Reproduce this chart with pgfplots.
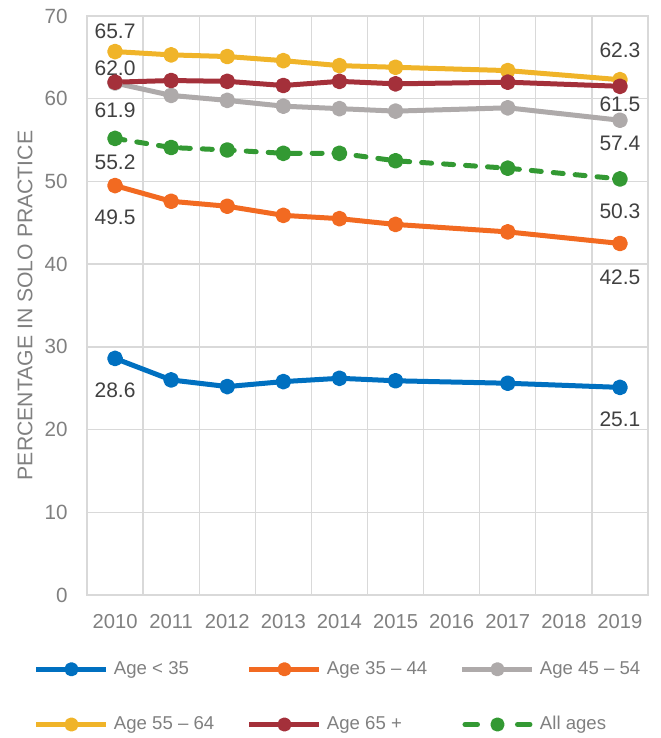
\documentclass[border=0pt]{standalone}
\usepackage{pgfplots}
\pgfplotsset{compat=1.18}
\usepackage{fontspec}
\setmainfont{Liberation Sans}
\definecolor{cBlue}{HTML}{0070C0}
\definecolor{cOrange}{HTML}{F26A21}
\definecolor{cGray}{HTML}{AEAAAA}
\definecolor{cYellow}{HTML}{F0B429}
\definecolor{cRed}{HTML}{A4303A}
\definecolor{cGreen}{HTML}{339933}
\definecolor{gridc}{HTML}{D9D9D9}
\definecolor{tickc}{HTML}{808080}
\definecolor{dlc}{HTML}{404040}
\tikzset{dl/.style={font=\fontsize{10.5}{12}\selectfont, text=dlc, anchor=center, inner sep=0pt}}
\pgfplotsset{dashlegend/.style={legend image code/.code={\draw[##1,solid,line cap=round] (1.25pt,0pt)--(7.5pt,0pt); \draw[##1,solid,line cap=round] (27.5pt,0pt)--(33.75pt,0pt); \draw[##1,solid,mark size=2.3pt] plot coordinates {(17.5pt,0pt)};}}}
\begin{document}
\begin{tikzpicture}
\begin{axis}[
  scale only axis, width=280.5pt, height=289.5pt,
  xmin=2009.5, xmax=2019.5, ymin=0, ymax=70,
  xtick={2010,2011,2012,2013,2014,2015,2016,2017,2018,2019},
  xticklabels={2010,2011,2012,2013,2014,2015,2016,2017,2018,2019},
  minor xtick={2009.5,2010.5,2011.5,2012.5,2013.5,2014.5,2015.5,2016.5,2017.5,2018.5,2019.5},
  ytick={0,10,20,30,40,50,60,70},
  xminorgrids=true, ymajorgrids=true, xmajorgrids=false,
  major tick length=0pt, minor tick length=0pt,
  tick style={draw=none},
  axis line style={draw=gridc, line width=0.65pt},
  major grid style={draw=gridc, line width=0.65pt},
  minor grid style={draw=gridc, line width=0.65pt},
  /pgf/number format/assume math mode=true,
  xticklabel style={font=\fontsize{10.1}{12}\selectfont, text=tickc, anchor=north, inner sep=0pt, yshift=-9.5pt},
  yticklabel style={font=\fontsize{10.3}{12}\selectfont, text=tickc, anchor=east, inner sep=0pt, xshift=-9.5pt},
  ylabel={PERCENTAGE IN SOLO PRACTICE},
  ylabel style={at={(axis description cs:-0.1105,0.5)}, anchor=center, font=\fontsize{10.6}{12}\selectfont, text=tickc},
  clip=false,
  every axis plot/.append style={line width=2.5pt, line join=round, mark=*, mark size=2.7pt, mark options={solid}},
  legend columns=3,
  legend cell align=left,
  legend style={draw=none, fill=none, inner sep=0pt, outer sep=0pt, anchor=west, at={(-0.0945,-0.1762)},
    column sep=0pt, row sep=19.5pt, nodes={inner sep=0pt}, font=\fontsize{9.3}{11}\selectfont, text=tickc},
  legend image code/.code={\draw[mark repeat=2,mark phase=2,#1,mark size=2.3pt] plot coordinates {(0pt,0pt)(17.5pt,0pt)(35pt,0pt)};},
]
\addplot[cBlue] coordinates {(2010,28.6)(2011,26.0)(2012,25.2)(2013,25.8)(2014,26.2)(2015,25.9)(2017,25.6)(2019,25.1)};
\addlegendentry{\makebox[69pt][l]{\hspace*{2.5pt}Age < 35}}
\addplot[cOrange] coordinates {(2010,49.5)(2011,47.6)(2012,47.0)(2013,45.9)(2014,45.5)(2015,44.8)(2017,43.9)(2019,42.5)};
\addlegendentry{\makebox[69pt][l]{\hspace*{2.5pt}Age 35 – 44}}
\addplot[cGray] coordinates {(2010,61.9)(2011,60.4)(2012,59.8)(2013,59.1)(2014,58.8)(2015,58.5)(2017,58.9)(2019,57.4)};
\addlegendentry{\makebox[69pt][l]{\hspace*{2.5pt}Age 45 – 54}}
\addplot[cYellow] coordinates {(2010,65.7)(2011,65.3)(2012,65.1)(2013,64.6)(2014,64.0)(2015,63.8)(2017,63.4)(2019,62.3)};
\addlegendentry{\makebox[69pt][l]{\hspace*{2.5pt}Age 55 – 64}}
\addplot[cRed] coordinates {(2010,62.0)(2011,62.2)(2012,62.1)(2013,61.6)(2014,62.1)(2015,61.8)(2017,62.0)(2019,61.5)};
\addlegendentry{\makebox[69pt][l]{\hspace*{2.5pt}Age 65 +}}
\addplot[cGreen, dash pattern=on 5pt off 6pt, line cap=round, dashlegend]
  coordinates {(2010,55.2)(2011,54.1)(2012,53.8)(2013,53.4)(2014,53.4)(2015,52.5)(2017,51.6)(2019,50.3)};
\addlegendentry{\makebox[69pt][l]{\hspace*{2.5pt}All ages}}
% data labels
\node[dl,yshift=10pt] at (axis cs:2010,65.7) {65.7};
\node[dl,yshift=7pt] at (axis cs:2010,62.0) {62.0};
\node[dl,yshift=-13.5pt] at (axis cs:2010,61.9) {61.9};
\node[dl,yshift=-11.7pt] at (axis cs:2010,55.2) {55.2};
\node[dl,yshift=-16pt] at (axis cs:2010,49.5) {49.5};
\node[dl,yshift=-16pt] at (axis cs:2010,28.6) {28.6};
\node[dl,yshift=14.5pt] at (axis cs:2019,62.3) {62.3};
\node[dl,yshift=-9pt] at (axis cs:2019,61.5) {61.5};
\node[dl,yshift=-11.7pt] at (axis cs:2019,57.4) {57.4};
\node[dl,yshift=-16pt] at (axis cs:2019,50.3) {50.3};
\node[dl,yshift=-16.7pt] at (axis cs:2019,42.5) {42.5};
\node[dl,yshift=-16pt] at (axis cs:2019,25.1) {25.1};
\end{axis}
\pgfresetboundingbox
\useasboundingbox (-43.5pt,-71.5pt) rectangle (286.5pt,297.5pt);
\end{tikzpicture}
\end{document}
